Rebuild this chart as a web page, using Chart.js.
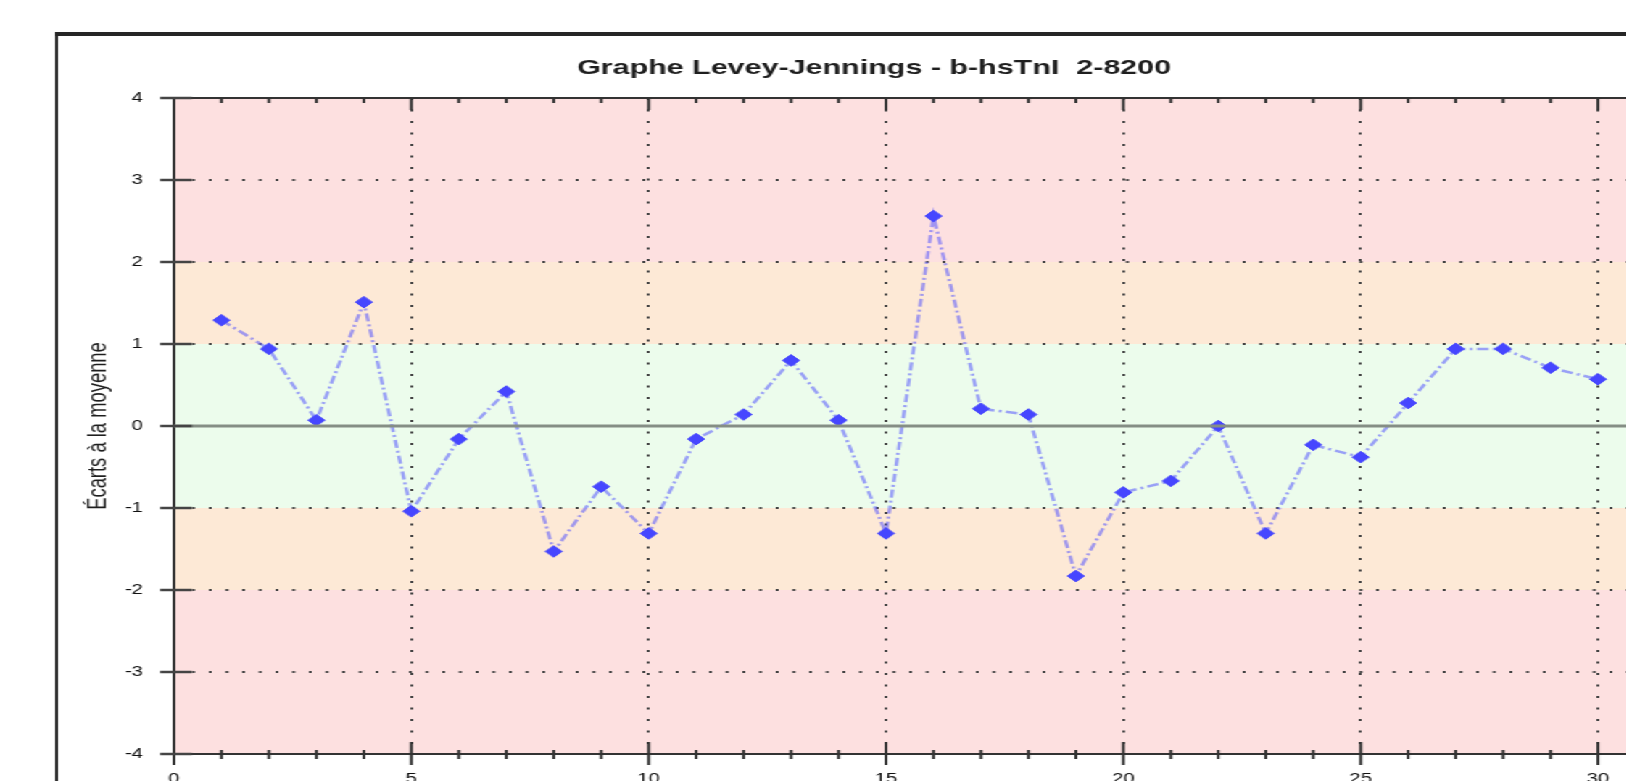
<!DOCTYPE html>
<html>
<head>
<meta charset="utf-8">
<script src="https://cdn.jsdelivr.net/npm/chart.js@4.4.1/dist/chart.umd.min.js"></script>
<style>
  html, body { margin: 0; padding: 0; background: #fff; overflow: hidden; width: 1626px; height: 781px; }
  /* the whole graph is rendered narrow and widened horizontally */
  #stage { position: absolute; left: 0; top: 0; width: 1200px; height: 900px; transform: scaleX(1.45); transform-origin: 0 0; }
  #frame { position: absolute; left: 38px; top: 32px; width: 1160px; height: 860px;
           border-left: 2px solid #262626; border-top: 4px solid #262626; }
  #chart { position: absolute; left: 0; top: 0; width: 1126px; height: 900px; }
</style>
</head>
<body>
<div id="stage"><div id="frame"><canvas id="chart" width="1126" height="900"></canvas></div></div>
<script>
// Control runs (x) and deviation from the mean in SD units (y)
const runs = [1, 2, 3, 4, 5, 6, 7, 8, 9, 10, 11, 12, 13, 14, 15,
              16, 17, 18, 19, 20, 21, 22, 23, 24, 25, 26, 27, 28, 29, 30];
const deviations = [1.29, 0.94, 0.07, 1.51, -1.04, -0.16, 0.42, -1.53, -0.74, -1.31,
                    -0.16, 0.14, 0.80, 0.07, -1.31, 2.56, 0.21, 0.14, -1.83, -0.81,
                    -0.67, 0.00, -1.31, -0.23, -0.38, 0.28, 0.94, 0.94, 0.71, 0.57];

// Axis ticks
const xTickValues = [0, 5, 10, 15, 20, 25, 30];
const yTickValues = [-4, -3, -2, -1, 0, 1, 2, 3, 4];
const xAxisMin = 0, xAxisMax = 31;
const yAxisMin = -4, yAxisMax = 4;

// SD limits separating the acceptance / warning / rejection zones
const sdLimits = [1, 2];
const meanValue = 0;

const chartTitle = 'Graphe Levey-Jennings - b-hsTnI  2-8200';
const yAxisTitle = 'Écarts à la moyenne';

Chart.defaults.font.family = "'Liberation Sans', Arial, sans-serif";

// Coloured background zones behind the plot
const zoneBands = {
  id: 'zoneBands',
  beforeDraw(chart) {
    const { ctx, chartArea: a, scales: { y } } = chart;
    const zones = [
      [y.min, -sdLimits[1], '#fde0e0'],
      [-sdLimits[1], -sdLimits[0], '#fde9d6'],
      [-sdLimits[0], sdLimits[0], '#ecfcec'],
      [sdLimits[0], sdLimits[1], '#fde9d6'],
      [sdLimits[1], y.max, '#fde0e0']
    ];
    ctx.save();
    zones.forEach(([lo, hi, color]) => {
      const top = Math.round(y.getPixelForValue(hi));
      const bottom = Math.round(y.getPixelForValue(lo));
      ctx.fillStyle = color;
      ctx.fillRect(a.left, top, a.right - a.left, bottom - top);
    });
    ctx.restore();
  }
};

// Plot frame and tick marks crossing the axes
const frameTicks = {
  id: 'frameTicks',
  afterDraw(chart) {
    const { ctx, chartArea: a, scales: { x, y } } = chart;
    ctx.save();
    ctx.strokeStyle = '#333';
    ctx.lineWidth = 2;
    ctx.beginPath();
    ctx.moveTo(a.left, a.top); ctx.lineTo(a.right, a.top);
    ctx.moveTo(a.right, a.top); ctx.lineTo(a.right, a.bottom);
    ctx.stroke();

    for (let v = Math.ceil(x.min); v <= x.max; v++) {
      const px = x.getPixelForValue(v);
      const major = xTickValues.includes(v);
      ctx.lineWidth = 2;
      ctx.beginPath();
      ctx.moveTo(px, a.bottom - (major ? 12 : 4));
      ctx.lineTo(px, a.bottom + (major ? 11 : 5));
      ctx.moveTo(px, a.top);
      ctx.lineTo(px, a.top + (major ? 12 : 5));
      ctx.stroke();
    }

    ctx.lineWidth = 2.5;
    ctx.strokeStyle = '#444';
    yTickValues.forEach(v => {
      const py = y.getPixelForValue(v);
      ctx.beginPath();
      ctx.moveTo(a.left - 9.7, py);
      ctx.lineTo(a.left + 12.4, py);
      ctx.stroke();
    });
    ctx.restore();
  }
};

const dotted = '#444';
const clear = 'rgba(0,0,0,0)';

new Chart(document.getElementById('chart'), {
  type: 'line',
  data: {
    datasets: [
      {
        label: 'Écart',
        data: runs.map((r, i) => ({ x: r, y: deviations[i] })),
        borderColor: 'rgba(85, 85, 255, 0.55)',
        borderWidth: 2.5,
        borderDash: [8, 3, 2, 3],
        pointStyle: 'rectRot',
        pointRadius: 5.8,
        pointBackgroundColor: '#4646ff',
        pointBorderColor: '#4646ff',
        pointBorderWidth: 1,
        tension: 0,
        order: 1
      },
      {
        label: 'Moyenne',
        data: [{ x: xAxisMin, y: meanValue }, { x: xAxisMax, y: meanValue }],
        borderColor: '#858e85',
        borderWidth: 3,
        pointRadius: 0,
        order: 0
      }
    ]
  },
  options: {
    responsive: false,
    animation: false,
    devicePixelRatio: 1,
    layout: { padding: { left: 30.8, right: 31.2, top: 0, bottom: 142 } },
    plugins: {
      legend: { display: false },
      tooltip: { enabled: false },
      title: {
        display: true,
        text: chartTitle,
        color: '#1e1e1e',
        font: { size: 21, weight: 'bold', lineHeight: 1.2 },
        padding: { top: 19.9, bottom: 16.9 }
      }
    },
    scales: {
      x: {
        type: 'linear',
        min: xAxisMin,
        max: xAxisMax,
        afterBuildTicks: s => { s.ticks = xTickValues.map(v => ({ value: v })); },
        afterFit: s => { s.height = 40; },
        grid: {
          drawTicks: false,
          lineWidth: 2,
          color: c => (c.tick && c.tick.value === xAxisMin) ? clear : dotted
        },
        border: { display: true, color: '#333', width: 2, dash: [2, 9.5] },
        ticks: { padding: 17, color: '#111', font: { size: 14 } }
      },
      y: {
        type: 'linear',
        min: yAxisMin,
        max: yAxisMax,
        afterBuildTicks: s => { s.ticks = yTickValues.map(v => ({ value: v })); },
        afterFit: s => { s.width = 49.2; },
        grid: {
          drawTicks: false,
          lineWidth: 2,
          color: c => {
            const v = c.tick ? c.tick.value : null;
            return (v === meanValue || v === yAxisMin || v === yAxisMax) ? clear : dotted;
          }
        },
        border: { display: true, color: '#333', width: 2, dash: [2, 9.5] },
        ticks: { padding: 21.4, color: '#111', font: { size: 14 } },
        title: {
          display: true,
          text: yAxisTitle,
          color: '#1e1e1e',
          font: { size: 18.4, lineHeight: 1.2 },
          padding: { top: -13.5, bottom: 0 }
        }
      }
    }
  },
  plugins: [zoneBands, frameTicks]
});
</script>
</body>
</html>
